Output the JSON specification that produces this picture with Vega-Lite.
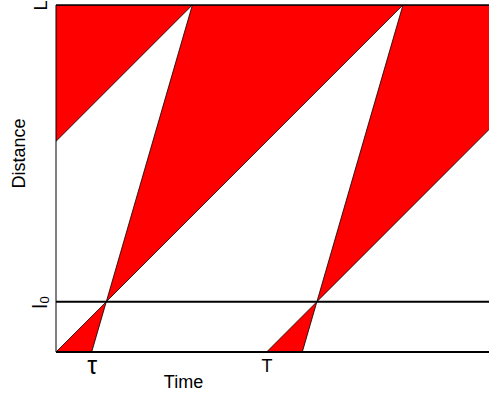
{
  "$schema": "https://vega.github.io/schema/vega-lite/v6.json",
  "autosize": "none",
  "width": 433,
  "height": 347,
  "padding": {"left": 56, "top": 5, "right": 0, "bottom": 42},
  "background": "white",
  "config": {
    "view": {"stroke": null},
    "font": "Liberation Sans"
  },
  "datasets": {
    "bands": [
      {"band": "prev", "d": 0, "t1": -60.7, "t2": -50.41},
      {"band": "prev", "d": 14.5, "t1": -46.2, "t2": -46.2},
      {"band": "prev", "d": 100, "t1": -21.4, "t2": 39.3},
      {"band": "first", "d": 0, "t1": 0, "t2": 10.29},
      {"band": "first", "d": 14.5, "t1": 14.5, "t2": 14.5},
      {"band": "first", "d": 100, "t1": 39.3, "t2": 100},
      {"band": "second", "d": 0, "t1": 60.7, "t2": 70.99},
      {"band": "second", "d": 14.5, "t1": 75.2, "t2": 75.2},
      {"band": "second", "d": 100, "t1": 100, "t2": 160.7}
    ],
    "levels": [{"d": 0}, {"d": 14.5}],
    "top": [{"d": 100}],
    "start": [{"t1": 0}]
  },
  "layer": [
    {
      "data": {"name": "bands"},
      "mark": {"type": "area", "orient": "horizontal", "fill": "#ff0000", "stroke": "#000000", "strokeWidth": 0.8, "clip": true},
      "encoding": {
        "y": {
          "field": "d", "type": "quantitative",
          "scale": {"domain": [0, 100], "nice": false, "zero": false},
          "axis": {
            "title": "Distance",
            "values": [14.5, 100],
            "labelExpr": "datum.value < 50 ? 'l₀' : 'L'",
            "domain": false, "ticks": false, "grid": false,
            "labelAngle": 270, "labelAlign": "center", "labelBaseline": "alphabetic",
            "labelPadding": 10, "labelFlush": false, "labelOverlap": false,
            "labelFontSize": {"condition": {"test": "datum.value < 50", "value": 21}, "value": 18},
            "labelColor": "#000000",
            "titleFontSize": 18, "titleFontWeight": "normal", "titleColor": "#000000",
            "titleAngle": 270, "titleAlign": "center", "titleBaseline": "alphabetic",
            "titleX": -32, "titleY": 148
          }
        },
        "x": {
          "field": "t1", "type": "quantitative",
          "scale": {"domain": [0, 124.8], "nice": false, "zero": false},
          "axis": {
            "title": "Time",
            "values": [10.29, 60.7],
            "labelExpr": "datum.value < 30 ? 'τ' : 'T'",
            "domain": false, "ticks": false, "grid": false,
            "labelPadding": {"condition": {"test": "datum.value < 30", "value": 1}, "value": 5},
            "labelFlush": false, "labelOverlap": false,
            "labelFontSize": {"condition": {"test": "datum.value < 30", "value": 25}, "value": 18},
            "labelColor": "#000000",
            "titleFontSize": 18, "titleFontWeight": "normal", "titleColor": "#000000",
            "titleAlign": "center", "titleBaseline": "alphabetic",
            "titleX": 127, "titleY": 35
          }
        },
        "x2": {"field": "t2"},
        "detail": {"field": "band"}
      }
    },
    {
      "data": {"name": "levels"},
      "mark": {"type": "rule", "stroke": "#000000", "strokeWidth": 2},
      "encoding": {"y": {"field": "d", "type": "quantitative"}}
    },
    {
      "data": {"name": "top"},
      "mark": {"type": "rule", "stroke": "#000000", "strokeWidth": 1.5},
      "encoding": {"y": {"field": "d", "type": "quantitative"}}
    },
    {
      "data": {"name": "start"},
      "mark": {"type": "rule", "stroke": "#000000", "strokeWidth": 1},
      "encoding": {"x": {"field": "t1", "type": "quantitative"}}
    }
  ]
}
